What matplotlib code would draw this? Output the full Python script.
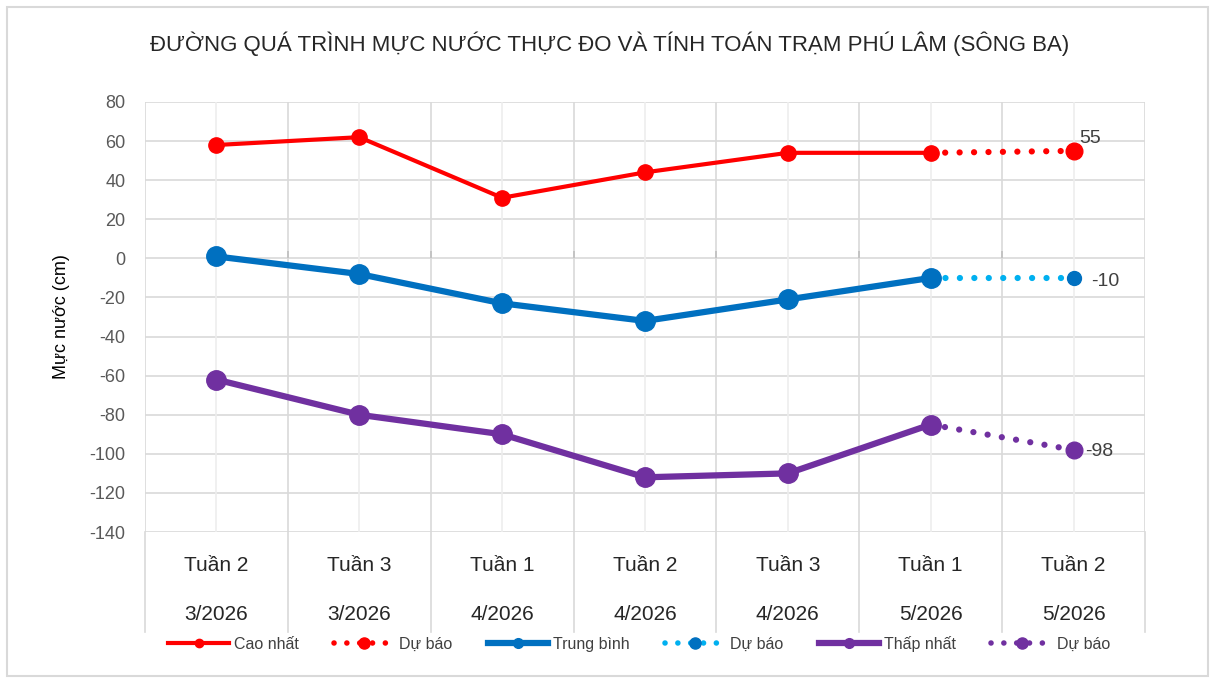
import numpy as np
import matplotlib
matplotlib.use("Agg")
import matplotlib.pyplot as plt
import matplotlib.transforms as mtransforms
from matplotlib.lines import Line2D
from matplotlib.patches import Rectangle

plt.rcParams['font.family'] = ['Liberation Sans', 'DejaVu Sans']
plt.rcParams['axes.unicode_minus'] = False

tuan = ['Tuần 2', 'Tuần 3', 'Tuần 1', 'Tuần 2', 'Tuần 3', 'Tuần 1', 'Tuần 2']
thang = ['3/2026', '3/2026', '4/2026', '4/2026', '4/2026', '5/2026', '5/2026']

cao_nhat = [58, 62, 31, 44, 54, 54, None]
du_bao_cao = [None, None, None, None, None, 54, 55]
trung_binh = [1, -8, -23, -32, -21, -10, None]
du_bao_tb = [None, None, None, None, None, -10, -10]
thap_nhat = [-62, -80, -90, -112, -110, -85, None]
du_bao_thap = [None, None, None, None, None, -85, -98]

def arr(v):
    return np.array([np.nan if a is None else a for a in v], dtype=float)

x = np.arange(len(tuan))
dots = (0, (0.01, 2.3))

fig = plt.figure(figsize=(12.15, 6.8), dpi=100)
fig.patches.append(Rectangle((0.006, 0.006), 0.988, 0.984, transform=fig.transFigure,
                             fill=False, edgecolor='#D9D9D9', linewidth=1.5))
ax = fig.add_axes([0.1193, 0.2176, 0.8231, 0.6324])

grid_c = '#D9D9D9'
for v in np.arange(-140, 81, 20):
    ax.axhline(v, color=grid_c, linewidth=1.2, zorder=0)
for b in np.arange(-0.5, 7.0, 1.0):
    ax.axvline(b, color=grid_c, linewidth=1.2, zorder=0)
for c in x:
    ax.axvline(c, color='#EDEDED', linewidth=1.2, zorder=0)
# tick marks of the category axis at 0
ax.vlines(np.arange(0.5, 6.0, 1.0), 0, 4, color='#BFBFBF', linewidth=1.2, zorder=1)

# forecast dotted lines
ax.plot(x, arr(du_bao_cao), color='#FF0000', linestyle=dots, linewidth=4.5,
        dash_capstyle='round', zorder=3)
ax.plot(x[6], du_bao_cao[6], 'o', color='#FF0000', markersize=12, zorder=4)
ax.plot(x, arr(du_bao_tb), color='#00B0F0', linestyle=dots, linewidth=4.5,
        dash_capstyle='round', zorder=3)
ax.plot(x[6], du_bao_tb[6], 'o', color='#0070C0', markersize=10, zorder=4)
ax.plot(x, arr(du_bao_thap), color='#7030A0', linestyle=dots, linewidth=4.5,
        dash_capstyle='round', zorder=3)
ax.plot(x[6], du_bao_thap[6], 'o', color='#7030A0', markersize=12, zorder=4)

# main lines
ax.plot(x, arr(cao_nhat), color='#FF0000', linewidth=3, marker='o', markersize=11, zorder=5)
ax.plot(x, arr(trung_binh), color='#0070C0', linewidth=4.5, marker='o', markersize=14, zorder=5)
ax.plot(x, arr(thap_nhat), color='#7030A0', linewidth=4.5, marker='o', markersize=14, zorder=5)

ax.text(x[6] + 0.04, du_bao_cao[6] + 2, str(du_bao_cao[6]), fontsize=14, color='#404040',
        ha='left', va='bottom')
ax.text(x[6] + 0.12, du_bao_tb[6] - 2, str(du_bao_tb[6]), fontsize=14, color='#404040',
        ha='left', va='center')
ax.text(x[6] + 0.08, du_bao_thap[6] - 1, str(du_bao_thap[6]), fontsize=14, color='#404040',
        ha='left', va='center')

ax.set_xlim(-0.5, 6.5)
ax.set_ylim(-140, 80)
ax.set_yticks(np.arange(-140, 81, 20))
ax.tick_params(axis='y', length=0, labelsize=13, labelcolor='#595959', pad=14)
ax.set_xticks([])
for s in ax.spines.values():
    s.set_visible(False)

# multi-level category labels box
trans = mtransforms.blended_transform_factory(ax.transData, ax.transAxes)
for b in np.arange(-0.5, 7.0, 1.0):
    ax.plot([b, b], [0, -0.2326], transform=trans, color=grid_c, linewidth=1.2, clip_on=False)
for i in x:
    ax.text(i, -0.078, tuan[i], transform=trans, ha='center', va='center', fontsize=15, color='#262626')
    ax.text(i, -0.192, thang[i], transform=trans, ha='center', va='center', fontsize=15, color='#262626')

ax.set_ylabel('Mực nước (cm)', fontsize=13, color='black', labelpad=14)

fig.text(0.502, 0.935, 'ĐƯỜNG QUÁ TRÌNH MỰC NƯỚC THỰC ĐO VÀ TÍNH TOÁN TRẠM PHÚ LÂM (SÔNG BA)',
         ha='center', va='center', fontsize=16, color='#262626')

handles = [
    Line2D([], [], color='#FF0000', linewidth=3, marker='o', markersize=6),
    Line2D([], [], color='#FF0000', linestyle=dots, linewidth=4, dash_capstyle='round',
           marker='o', markersize=8),
    Line2D([], [], color='#0070C0', linewidth=4.5, marker='o', markersize=7),
    Line2D([], [], color='#00B0F0', linestyle=dots, linewidth=4, dash_capstyle='round',
           marker='o', markersize=8, markerfacecolor='#0070C0', markeredgecolor='#0070C0'),
    Line2D([], [], color='#7030A0', linewidth=4.5, marker='o', markersize=7),
    Line2D([], [], color='#7030A0', linestyle=dots, linewidth=4, dash_capstyle='round',
           marker='o', markersize=8),
]
labels = ['Cao nhất', 'Dự báo', 'Trung bình', 'Dự báo', 'Thấp nhất', 'Dự báo']
fig.legend(handles, labels, loc='center', bbox_to_anchor=(0.526, 0.053), ncol=6, frameon=False,
           fontsize=11.5, handlelength=3.8, columnspacing=2.2, handletextpad=0.3,
           labelcolor='#404040', numpoints=1)

fig.savefig('out.png', dpi=100)
